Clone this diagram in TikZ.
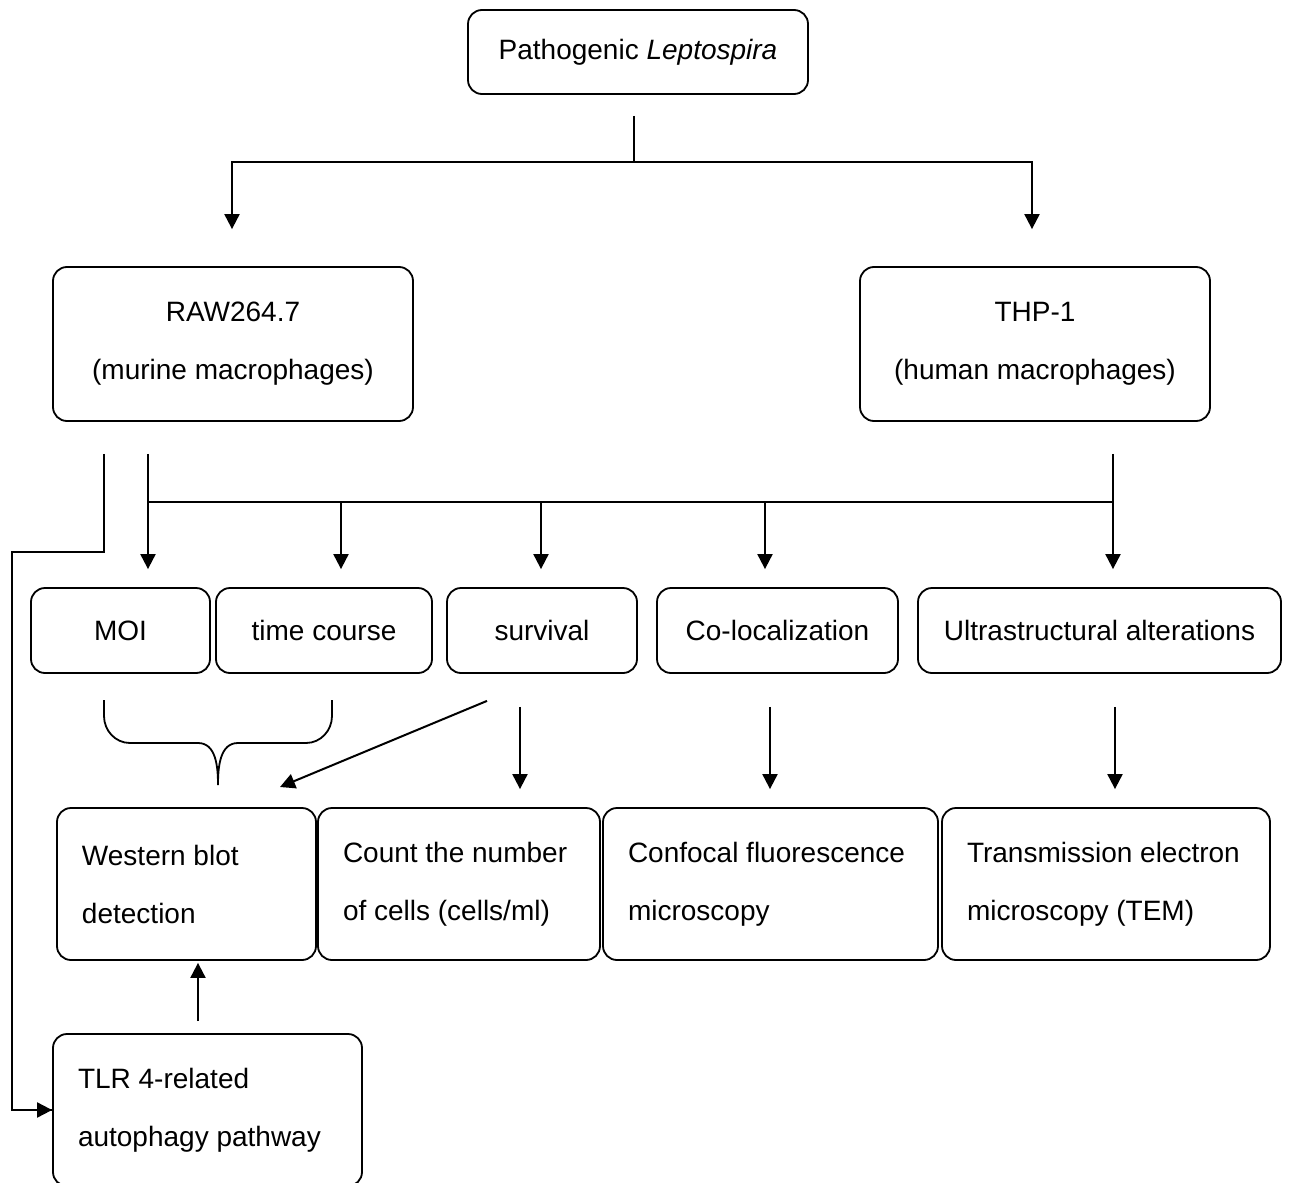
\documentclass[tikz,border=0pt]{standalone}
\usepackage{fontspec}
\setmainfont{Liberation Sans}
\usetikzlibrary{arrows.meta,calc}
\begin{document}
\begin{tikzpicture}[x=0.5pt,y=-0.5pt,
  every node/.style={font={\fontsize{14}{29}\selectfont}},
  box/.style={draw,rounded corners=7pt,line width=0.9pt,inner sep=0pt},
  cbox/.style={box,align=center},
  lbox/.style={box,align=flush left,inner xsep=12.5pt},
  ln/.style={line width=1pt},
  arr/.style={line width=1pt,-{Triangle[width=7.5pt,length=7.5pt]}}]
\useasboundingbox (0,0) rectangle (1292,1183);
% nodes
\node[cbox,minimum width=170pt,minimum height=42pt] (top) at (638,52) {Pathogenic \textit{Leptospira}};
\node[cbox,minimum width=180pt,minimum height=77pt] (raw) at (233,344) {RAW264.7\\(murine macrophages)};
\node[cbox,minimum width=175pt,minimum height=77pt] (thp) at (1035,344) {THP-1\\(human macrophages)};
\node[cbox,minimum width=89.5pt,minimum height=42.5pt] (moi) at (120.5,630.5) {MOI};
\node[cbox,minimum width=108pt,minimum height=42.5pt] (time) at (324,630.5) {time course};
\node[cbox,minimum width=95pt,minimum height=42.5pt] (surv) at (542,630.5) {survival};
\node[cbox,minimum width=120.5pt,minimum height=42.5pt] (coloc) at (777.5,630.5) {Co-localization};
\node[cbox,minimum width=181.5pt,minimum height=42.5pt] (ultra) at (1099.5,630.5) {Ultrastructural alterations};
\node[lbox,text width=104.5pt,minimum height=76pt] (wb) at (186.5,884) {Western blot\\detection};
\node[lbox,text width=116pt,minimum height=76pt] (count) at (459,884) {Count the number\\of cells (cells/ml)};
\node[lbox,text width=142.5pt,minimum height=76pt] (conf) at (770.5,884) {Confocal fluorescence\\microscopy};
\node[lbox,text width=139pt,minimum height=76pt] (tem) at (1106,884) {Transmission electron\\microscopy (TEM)};
\node[lbox,text width=129.5pt,minimum height=76pt] (tlr) at (207.5,1110) {TLR 4-related\\autophagy pathway};
% connectors
\coordinate (split) at (634,162);
\draw[ln] ($(top.south)+(-4,21)$) -- (split);
\draw[arr] (split) -| ($(raw.north)+(-1,-37)$);
\draw[arr] (split) -| ($(thp.north)+(-3,-37)$);
\coordinate (l1) at ($(raw.south)+(-129,32)$);
\coordinate (l2) at ($(raw.south)+(-85,32)$);
\coordinate (r1) at ($(thp.south)+(78,32)$);
\coordinate (bus) at (148,502);
\draw[ln] (l1) -- (104,552) -- (12,552) |- (tlr.west);
\draw[arr] (12,1110) -- (tlr.west);
\draw[arr] (l2) -- ($(moi.north)+(27.5,-18)$);
\draw[arr] (r1) -- ($(ultra.north)+(13.5,-18)$);
\draw[ln] (bus) -- (1113,502);
\draw[arr] (341,502) -- ($(time.north)+(17,-18)$);
\draw[arr] (541,502) -- ($(surv.north)+(-1,-18)$);
\draw[arr] (765,502) -- ($(coloc.north)+(-12.5,-18)$);
% brace
\draw[line width=0.9pt] (104,700) -- (104,716) to[out=-90,in=180] (130,743) -- (198,743) to[out=0,in=90] (218,785)
  to[out=90,in=180] (238,743) -- (306,743) to[out=0,in=-90] (332,716) -- (332,700);
% other arrows
\draw[arr] ($(surv.south)+(-55,27)$) -- (280,787);
\draw[arr] ($(surv.south)+(-22,33)$) -- ($(count.north)+(61,-18)$);
\draw[arr] ($(coloc.south)+(-7.5,33)$) -- ($(conf.north)+(-0.5,-18)$);
\draw[arr] ($(ultra.south)+(15.5,33)$) -- ($(tem.north)+(9,-18)$);
\draw[arr] ($(tlr.north)+(-9.5,-12)$) -- ($(wb.south)+(11.5,2)$);
\end{tikzpicture}
\end{document}
